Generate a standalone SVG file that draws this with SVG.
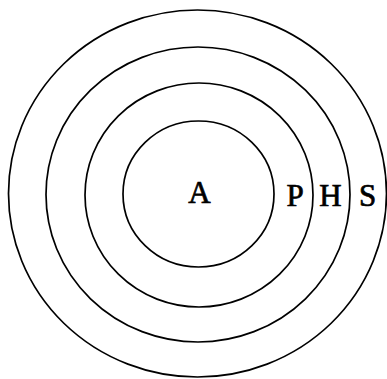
<svg xmlns="http://www.w3.org/2000/svg" width="387" height="379" viewBox="0 0 387 379">
<style>
.ring{fill:none;stroke:#000;stroke-width:1.7}
.lbl{font-family:"Liberation Serif","Times New Roman",serif;font-size:31px;fill:#000;stroke:#000;stroke-width:0.7;text-anchor:middle}
</style>
<rect width="387" height="379" fill="#fff"/>
<g id="S">
<ellipse class="ring" cx="197.5" cy="193.5" rx="189" ry="183.5"/>
<text class="lbl" x="367.5" y="206">S</text>
</g>
<g id="H">
<ellipse class="ring" cx="198" cy="194.5" rx="152" ry="147.5"/>
<text class="lbl" x="330.5" y="206">H</text>
</g>
<g id="P">
<ellipse class="ring" cx="199" cy="195" rx="114" ry="112"/>
<text class="lbl" x="295" y="206">P</text>
</g>
<g id="A">
<ellipse class="ring" cx="198.5" cy="194" rx="75.5" ry="73"/>
<text class="lbl" x="199.5" y="203">A</text>
</g>
<g id="connectors"/>
</svg>
